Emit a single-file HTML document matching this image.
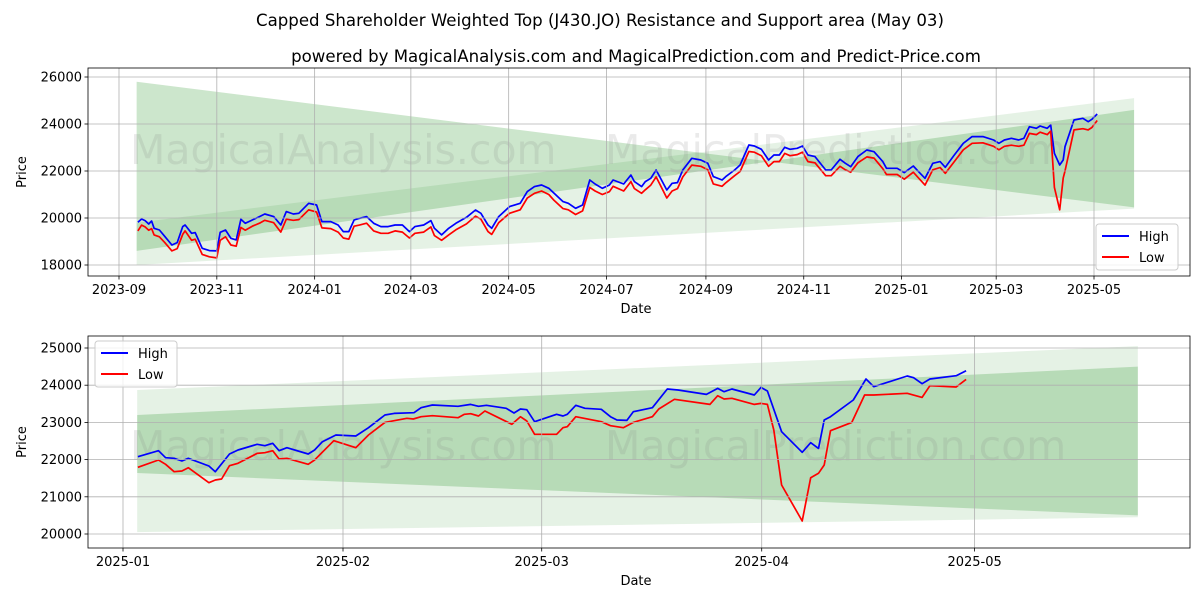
<!DOCTYPE html>
<html><head><meta charset="utf-8"><style>
html,body{margin:0;padding:0;background:#fff}
svg{display:block;font-family:"DejaVu Sans","Liberation Sans",sans-serif}
</style></head><body>
<svg id="c" width="1200" height="600" viewBox="0 0 1200 600" xmlns="http://www.w3.org/2000/svg">
<text x="600" y="26" text-anchor="middle" font-size="16.6">Capped Shareholder Weighted Top (J430.JO) Resistance and Support area (May 03)</text>
<text x="636" y="62" text-anchor="middle" font-size="16.6">powered by MagicalAnalysis.com and MagicalPrediction.com and Predict-Price.com</text>
</svg>
<script>
// ---- top chart data (days since 2023-09-01) ----
const topDays=[11.8,14.1,16.3,18.5,20.3,21.9,25.2,28.6,33.0,36.3,39.7,41.2,45.3,47.5,51.9,56.4,60.9,63.1,66.4,69.8,73.1,76.0,78.7,83.1,87.6,90.9,96.5,100.9,104.3,108.7,112.1,118.3,123.2,126.5,132.1,136.6,139.9,143.3,146.6,149.9,154.4,158.8,163.3,167.8,172.2,176.7,181.1,184.5,190.0,194.5,196.7,201.2,205.6,210.1,216.7,222.3,225.7,230.1,232.4,236.8,243.5,250.2,254.6,259.1,263.5,268.0,271.3,276.9,280.2,284.7,289.1,293.6,296.9,301.4,305.8,308.1,314.7,319.2,321.4,325.9,328.2,331.6,334.9,337.2,341.6,344.9,348.3,351.6,357.2,362.8,367.2,370.6,376.1,378.4,383.9,387.3,392.8,396.2,400.6,405.1,408.4,411.8,415.1,418.4,422.9,426.2,429.6,434.0,440.7,444.1,449.6,453.0,456.3,460.8,466.3,470.8,476.3,478.6,485.3,489.7,495.3,498.6,502.6,507.5,512.0,515.3,520.9,526.5,532.0,538.7,545.4,548.7,552.1,556.5,561.0,564.3,567.7,572.1,574.4,578.8,581.0,583.3,586.6,588.8,589.9,595.5,601.1,604.4,606.7,610.0];
const topHigh=[19817,19959,19888,19746,19874,19562,19491,19208,18853,18952,19633,19704,19349,19378,18711,18612,18598,19392,19491,19137,19066,19945,19775,19917,20058,20172,20058,19704,20271,20172,20200,20626,20555,19846,19846,19704,19420,19420,19917,19988,20058,19775,19633,19633,19704,19704,19420,19633,19704,19888,19562,19279,19562,19775,20030,20342,20200,19704,19562,20058,20484,20626,21122,21335,21406,21264,21051,20697,20626,20413,20555,21618,21448,21264,21406,21618,21448,21831,21547,21335,21547,21689,22044,21760,21193,21477,21505,22044,22540,22469,22327,21760,21618,21760,22044,22256,23107,23065,22923,22469,22682,22682,23008,22923,22965,23065,22682,22611,22044,22044,22497,22327,22185,22611,22894,22823,22398,22114,22114,21930,22214,21972,21689,22327,22398,22157,22682,23178,23462,23462,23320,23178,23320,23391,23320,23391,23887,23816,23915,23816,23958,22753,22256,22469,23036,24171,24242,24100,24199,24426];
const topLow=[19450,19700,19620,19480,19550,19280,19200,18950,18600,18700,19300,19450,19050,19100,18450,18350,18300,19050,19200,18850,18800,19600,19480,19650,19780,19900,19800,19400,19950,19900,19930,20350,20250,19580,19550,19400,19150,19100,19650,19700,19780,19450,19350,19350,19450,19400,19150,19350,19400,19620,19250,19050,19280,19500,19750,20080,19950,19420,19300,19800,20200,20350,20850,21050,21150,21000,20750,20400,20350,20150,20300,21300,21150,21000,21120,21350,21150,21550,21250,21050,21200,21400,21750,21450,20850,21150,21250,21750,22250,22200,22050,21450,21350,21500,21800,21980,22830,22800,22650,22200,22400,22400,22750,22650,22700,22800,22400,22350,21800,21800,22200,22050,21950,22350,22600,22550,22100,21850,21850,21650,21950,21700,21400,22050,22150,21900,22400,22900,23180,23200,23050,22900,23050,23100,23050,23100,23600,23550,23650,23550,23700,21300,20350,21700,22000,23750,23800,23750,23850,24150];
const topYTicks=[18000,20000,22000,24000,26000];
const topXTicks=["2023-09","2023-11","2024-01","2024-03","2024-05","2024-07","2024-09","2024-11","2025-01","2025-03","2025-05"];
// bands: [startEdgeA,endEdgeA,startEdgeB,endEdgeB]
const topBand1=[25800,20450,18600,24600];
const topBand2=[19800,25100,18000,20400];
const topBandDates=["2023-09-12","2025-05-26"];

// ---- bottom chart data (days since 2025-01-01) ----
const botHighDays=[2.1,5.0,6.0,7.2,8.3,9.2,12.1,13.0,15.0,16.2,18.9,20.0,21.1,22.0,23.1,26.1,27.0,28.1,30.0,32.8,34.6,36.9,38.2,41.0,42.0,43.6,47.2,49.0,50.1,51.2,54.0,55.1,56.0,56.9,58.0,61.1,62.0,62.6,63.8,65.1,67.4,68.7,69.6,71.0,71.9,74.6,76.7,78.2,82.2,83.8,84.7,85.8,88.96,89.9,90.8,92.8,95.7,96.9,98.0,98.8,99.7,102.9,104.7,105.8,110.5,111.4,112.6,113.7,117.4,118.8];
const botHigh=[22079,22240,22052,22034,21962,22034,21828,21675,22150,22258,22410,22374,22437,22240,22320,22150,22258,22482,22661,22634,22858,23199,23243,23261,23396,23467,23432,23485,23432,23459,23378,23252,23360,23342,23019,23217,23172,23217,23459,23378,23351,23154,23064,23055,23288,23396,23898,23871,23754,23915,23826,23898,23736,23942,23844,22751,22195,22455,22302,23064,23154,23602,24166,23960,24247,24202,24041,24166,24256,24390];
const botLowDays=[2.1,5.0,6.0,7.2,8.3,9.2,12.1,13.0,13.9,15.0,16.2,18.9,20.0,21.1,22.0,23.1,26.1,27.0,29.7,32.8,34.6,36.9,38.2,40.0,40.9,42.0,43.6,47.2,48.1,49.0,50.1,51.0,54.8,56.0,56.9,58.0,61.1,62.0,62.6,63.8,67.4,68.7,70.5,71.9,74.6,75.5,77.7,82.7,83.8,84.7,85.8,88.96,89.9,90.8,91.7,92.8,95.7,96.9,98.0,98.8,99.7,102.7,104.5,105.8,110.5,112.6,113.7,117.4,118.8];
const botLow=[21792,21989,21873,21675,21693,21783,21380,21451,21478,21837,21900,22168,22186,22240,22016,22034,21873,21989,22509,22320,22661,23001,23046,23109,23091,23154,23181,23127,23217,23234,23172,23306,22948,23154,23037,22679,22679,22858,22885,23154,23019,22912,22858,23001,23154,23360,23620,23485,23718,23629,23647,23485,23512,23485,22795,21317,20349,21514,21631,21855,22777,23001,23736,23736,23781,23673,23987,23951,24157];
const botYTicks=[20000,21000,22000,23000,24000,25000];
const botXTicks=["2025-01","2025-02","2025-03","2025-04","2025-05"];
const botBand1=[23200,24500,21640,20500];
const botBand2=[23870,25050,20050,20450];
const botBandDates=["2025-01-03","2025-05-24"];

const NS="http://www.w3.org/2000/svg";
const svg=document.getElementById('c');
function mk(tag,attrs,parent){const e=document.createElementNS(NS,tag);for(const k in attrs)e.setAttribute(k,attrs[k]);(parent||svg).appendChild(e);return e;}
const DAY=86400000;
function chart(cfg){
  const {L,R,T,B}=cfg;
  const x=d=>cfg.x0+(d-cfg.t0)/DAY*cfg.pxDay;
  const y=v=>cfg.yA+(v-cfg.vA)*(cfg.yB-cfg.yA)/(cfg.vB-cfg.vA);
  const g=mk('g',{});
  
  
  const cp=mk('clipPath',{id:cfg.name+'-clip'},g);mk('rect',{x:L,y:T,width:R-L,height:B-T},cp);
  const plot=mk('g',{'clip-path':'url(#'+cfg.name+'-clip)'},g);
  const bd=cfg.bandDates.map(s=>x(new Date(s+"T00:00:00Z").getTime()));
  [[cfg.band2,0.1,'support-resistance-band-outer'],[cfg.band1,0.2,'support-resistance-band-inner']].forEach(([b,op,nm])=>{
    const p=mk('polygon',{points:`${bd[0]},${y(b[0])} ${bd[1]},${y(b[1])} ${bd[1]},${y(b[3])} ${bd[0]},${y(b[2])}`,fill:'#008000','fill-opacity':op},plot);
    
    
  });
  [[130,'MagicalAnalysis.com'],[605,'MagicalPrediction.com']].forEach(([wx,t])=>{
    const w=mk('text',{x:wx,y:cfg.wmY,'font-size':41,fill:'#808080','fill-opacity':0.17},plot);w.textContent=t;
    
    
  });
  cfg.yTicks.forEach(v=>{
    const yy=y(v);
    mk('line',{x1:L,x2:R,y1:yy,y2:yy,stroke:'#b0b0b0','stroke-width':0.8},g);
    mk('line',{x1:L-3.5,x2:L,y1:yy,y2:yy,stroke:'#000','stroke-width':0.8},g);
    const t=mk('text',{x:L-6,y:yy+4.5,'text-anchor':'end','font-size':13},g);t.textContent=v;
    
    
  });
  cfg.xTicks.forEach(s=>{
    const xx=x(new Date(s+"-01T00:00:00Z").getTime());
    mk('line',{x1:xx,x2:xx,y1:T,y2:B,stroke:'#b0b0b0','stroke-width':0.8},g);
    mk('line',{x1:xx,x2:xx,y1:B,y2:B+3.5,stroke:'#000','stroke-width':0.8},g);
    const t=mk('text',{x:xx,y:B+18,'text-anchor':'middle','font-size':13},g);t.textContent=s;
    
    
  });
  const line=(days,vals,col,nm)=>{
    const pts=days.map((d,i)=>`${x(cfg.t0+d*DAY).toFixed(1)},${y(vals[i]).toFixed(1)}`).join(' ');
    const p=mk('polyline',{points:pts,fill:'none',stroke:col,'stroke-width':1.7,'stroke-linejoin':'round'},plot);
    
    
  };
  line(cfg.highDays,cfg.high,'#0000ff','high-line');
  line(cfg.lowDays,cfg.low,'#ff0000','low-line');
  const fr=mk('rect',{x:L,y:T,width:R-L,height:B-T,fill:'none',stroke:'#000','stroke-width':0.8},g);
  
  
  const yl=mk('text',{x:0,y:0,'font-size':13,'text-anchor':'middle',transform:`translate(${L-62},${(T+B)/2}) rotate(-90)`},g);yl.textContent='Price';
  
  
  const xl=mk('text',{x:(L+R)/2-3,y:B+37,'font-size':13,'text-anchor':'middle'},g);xl.textContent='Date';
  
  
  const lg=mk('g',{},g);
  
  
  mk('rect',{x:cfg.lgX,y:cfg.lgY,width:82,height:46,rx:3,fill:'#fff','fill-opacity':0.8,stroke:'#cccccc'},lg);
  [['High','#0000ff'],['Low','#ff0000']].forEach(([t,c],i)=>{
    const yy=cfg.lgY+12+i*21;
    mk('line',{x1:cfg.lgX+6,x2:cfg.lgX+33,y1:yy,y2:yy,stroke:c,'stroke-width':2},lg);
    const tx=mk('text',{x:cfg.lgX+43,y:yy+5,'font-size':13},lg);tx.textContent=t;
    
    
  });
}
chart({name:'top-chart',L:88,R:1190,T:68,B:276,x0:119,t0:Date.UTC(2023,8,1),pxDay:975/608,yA:265,vA:18000,yB:77,vB:26000,
  yTicks:topYTicks,xTicks:topXTicks,band1:topBand1,band2:topBand2,bandDates:topBandDates,
  highDays:topDays,high:topHigh,lowDays:topDays,low:topLow,wmY:164,lgX:1096,lgY:224});
chart({name:'bottom-chart',L:88,R:1190,T:336,B:548,x0:123,t0:Date.UTC(2025,0,1),pxDay:220/31,yA:534,vA:20000,yB:348,vB:25000,
  yTicks:botYTicks,xTicks:botXTicks,band1:botBand1,band2:botBand2,bandDates:botBandDates,
  highDays:botHighDays,high:botHigh,lowDays:botLowDays,low:botLow,wmY:460,lgX:95,lgY:341});
</script>
</body></html>
